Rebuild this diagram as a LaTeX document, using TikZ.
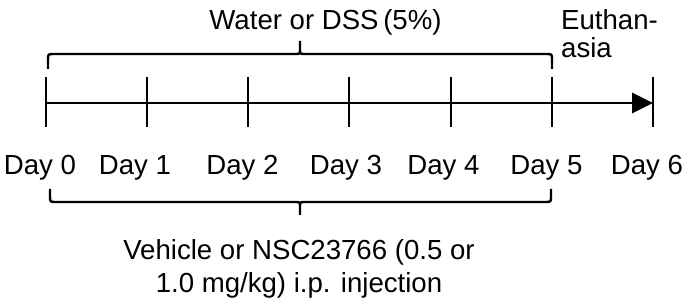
\documentclass[tikz,border=0pt]{standalone}
\usepackage{fontspec}
\setmainfont{Liberation Sans}
\usetikzlibrary{arrows.meta}
\begin{document}
\begin{tikzpicture}[x=1pt,y=-1pt,
  lbl/.style={inner sep=0pt,anchor=base,font=\fontsize{27.6}{33}\selectfont},
  tick/.style={line width=2.8pt},
  axis/.style={line width=2.8pt,-{Triangle[length=21pt,width=20pt]}},
  bracebig/.style={line width=2.4pt,line join=round}]
\useasboundingbox (0,0) rectangle (688,304);
% tick positions
\foreach \i/\x in {0/46,1/147,2/248,3/349,4/451,5/552,6/653}{
  \coordinate (t\i) at (\x,103);
  \coordinate (tt\i) at (\x,77);
  \coordinate (tb\i) at (\x,127);
  \draw[tick] (tt\i) -- (tb\i);
}
\draw[axis] (t0) -- (t6);
% day labels
\foreach \i/\x in {0/40,1/135,2/242.5,3/346,4/443.5,5/546.5,6/647}{
  \node[lbl] (d\i) at (\x,175) {Day \i};
}
% top brace
\coordinate (ba) at (48,69);
\coordinate (bb) at (552,69);
\coordinate (btip) at (300,41);
\draw[bracebig] (ba) -- (48,60) .. controls (48,54) .. (54,54) -- (295,54)
   .. controls (300,54) .. (300,49) -- (btip)
   (300,49) .. controls (300,54) .. (305,54) -- (546,54)
   .. controls (552,54) .. (552,60) -- (bb);
\node[lbl] (water) at (325.5,30) {Water or DSS\,(5\%)};
\node[lbl,anchor=base west,align=left,font=\fontsize{27.6}{28}\selectfont] (euth) at (561,58) {Euthan-\\asia};
% bottom brace
\coordinate (bc) at (50,189);
\coordinate (bd) at (551,189);
\coordinate (btip2) at (300,215);
\draw[bracebig] (bc) -- (50,196) .. controls (50,202) .. (56,202) -- (295,202)
   .. controls (300,202) .. (300,207) -- (btip2)
   (300,207) .. controls (300,202) .. (305,202) -- (545,202)
   .. controls (551,202) .. (551,196) -- (bd);
\node[lbl,align=center] (veh) at (299,293) {Vehicle or NSC23766 (0.5 or\\1.0 mg/kg) i.p. injection};
\end{tikzpicture}
\end{document}
